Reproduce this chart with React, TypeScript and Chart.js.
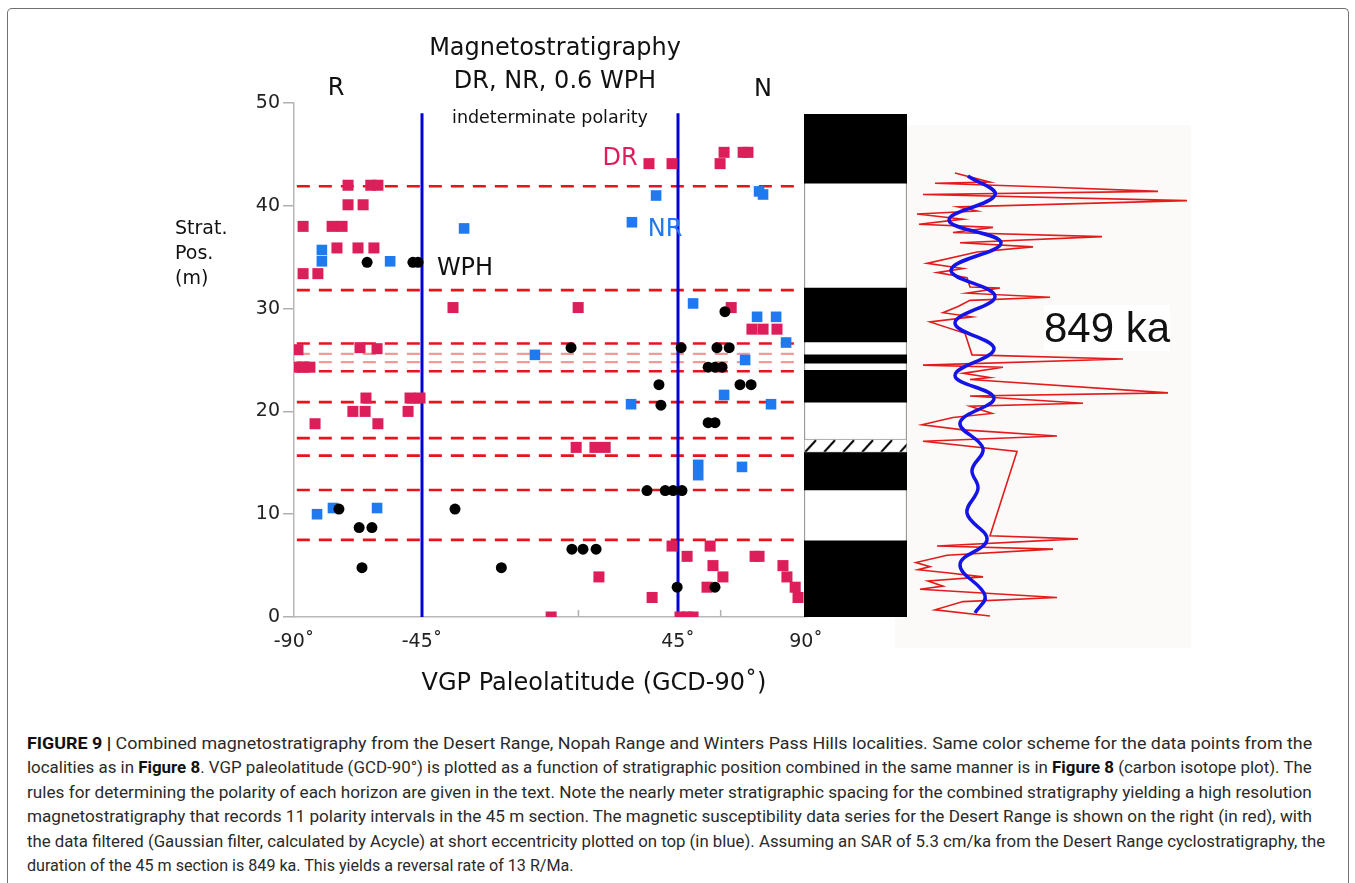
import React, { useEffect, useLayoutEffect, useRef } from "react";
import { Chart, registerables } from "chart.js";
Chart.register(...registerables);

const FONT = "'DejaVu Sans', sans-serif";

// ---- main scatter: VGP paleolatitude vs stratigraphic position ----
const yTickStep = 10;
const xTickValues = [-90, -45, 10, 45, 60, 90];
const xTickLabels = ["-90˚", "-45˚", "", "45˚", "", "90˚"];
const xMinorTicks = [10, 60];

// Desert Range (DR)
const drLat = [-71, -63, -60.5, -71, -65.7, -86.8, -76.6, -73.1, -74.9, -67.5, -61.9, -86.8, -81.6,
  34.8, 42.9, 59.8, 61.2, 67.9, 69.6, -34.1, 9.9, 63.7, 71, 74.9, 79.8, -88.6, -66.8, -60.8,
  -89.6, -87.1, -84.4, -64.7, -49.2, -45.7, -69.3, -65, -49.9, -82.6, -60.5, 9.2, 15.8, 19.4,
  42.9, 56.3, 48.2, 72.1, 73.5, 57.3, 81.9, 17.2, 60.8, 83.3, 55.2, 86.2, 35.9, 87.2, 0.4, 45.7, 48.2, 50.3];
const drPos = [42, 42, 42, 40.1, 40.1, 38, 38, 38, 35.9, 35.9, 35.9, 33.4, 33.4,
  44.1, 44.1, 44.1, 45.2, 45.2, 45.2, 30.1, 30.1, 30.1, 28, 28, 28, 26.0, 26.2, 26.1,
  24.3, 24.3, 24.3, 21.3, 21.3, 21.3, 20, 20, 20, 18.8, 18.8, 16.5, 16.5, 16.5,
  6.9, 6.9, 5.9, 5.9, 5.9, 5.0, 5.0, 3.9, 3.9, 3.9, 2.9, 2.9, 1.9, 1.9, 0, 0, 0, 0];

// Nopah Range (NR)
const nrLat = [-80.2, -80.2, -56.2, -30.2, 37.3, 73.5, 74.9, 28.8, 50.3, 72.8, 79.5, 83, -5.3, 68.6,
  61.2, 28.5, 77.7, 52.1, 52.1, 67.5, -81.9, -76.3, -60.8];
const nrPos = [35.7, 34.6, 34.6, 37.8, 41.0, 41.4, 41.1, 38.4, 30.5, 29.2, 29.2, 26.7, 25.5, 25.0,
  21.6, 20.7, 20.7, 14.8, 13.8, 14.6, 10.0, 10.6, 10.6];

// Winters Pass Hills (WPH)
const wphLat = [-64.3, -48.2, -46.4, 61.5, 7.4, 46.1, 58.7, 63, 55.6, 58, 60.5, 38.3, 66.8, 70.7, 39,
  55.6, 58, 34.1, 40.5, 43.3, 46.4, -74.2, -33.4, -67.1, -62.6, 7.7, 11.6, 16.2, -66.1, -17.1, 44.7, 58];
const wphPos = [34.5, 34.5, 34.5, 29.7, 26.2, 26.2, 26.2, 26.2, 24.3, 24.3, 24.3, 22.6, 22.6, 22.6, 20.6,
  18.9, 18.9, 12.3, 12.3, 12.3, 12.3, 10.5, 10.5, 8.7, 8.7, 6.6, 6.6, 6.6, 4.8, 4.8, 2.9, 2.9];

// polarity horizons (m) and their latitude extent
const horizonPos = [41.9, 31.8, 26.6, 23.9, 20.9, 17.4, 15.7, 12.35, 7.5];
const faintHorizonPos = [25.6, 24.8];
const horizonLat = [-89, 86];

// indeterminate polarity boundaries
const boundaryLat = [-45, 45];
const boundaryPos = [0, 49];

// ---- polarity column ----
const columnTop = 48.9;
const normalFrom = [42.2, 26.75, 24.7, 20.9, 12.35, 0];
const normalTo = [48.9, 32.0, 25.5, 24.0, 16.0, 7.4];
const hatchFrom = 16.0;
const hatchTo = 17.3;

// ---- magnetic susceptibility (Desert Range) ----
const susPos = [43.2, 42.3, 42.2, 41.8, 41.4, 41.1, 40.5, 39.9, 39.5, 39.2, 38.7, 38.2, 37.9, 37.4, 37.0,
  36.4, 36.0, 35.5, 34.4, 33.9, 33.5, 33.0, 32.1, 32.0, 31.5, 31.1, 30.8, 30.2, 29.6, 29.2, 28.7, 27.6,
  25.5, 25.1, 24.5, 24.3, 23.7, 23.3, 23.1, 21.8, 21.5, 20.8, 20.5, 19.8, 19.4, 18.7, 18.2, 17.6, 17.1,
  16.1, 7.9, 7.6, 6.9, 6.6, 6.0, 5.3, 4.9, 4.6, 4.3, 3.9, 3.5, 3.0, 2.7, 1.9, 1.5, 0.7, 0.1];
const susVal = [55, 90, 35, 153, 258, 23, 287, 58, 77, 17, 63, 19, 93, 53, 202,
  60, 133, 77, 27, 63, 37, 67, 70, 100, 67, 150, 70, 58, 43, 72, 30, 65,
  72, 223, 23, 103, 63, 90, 70, 268, 70, 183, 70, 92, 53, 22, 63, 157, 23,
  117, 90, 178, 37, 153, 47, 16, 30, 18, 47, 83, 28, 43, 20, 157, 63, 35, 90];
// Gaussian-filtered (short eccentricity)
const filtPos = [42.9, 41.05, 38.6, 36.4, 33.75, 31.2, 28.6, 26.1, 23.5, 21.3, 18.9, 16.4, 14.3, 12.5, 10.1, 7.5, 5.1, 2.1, 0.4];
const filtVal = [68, 95, 49, 101, 51, 95, 55, 94, 55, 94, 60, 83, 72, 78, 67, 87, 60, 85, 75];

const captionLines: Array<{ parts: Array<[string, boolean]>; width: number }> = [
  { parts: [["FIGURE 9 | ", true], ["Combined magnetostratigraphy from the Desert Range, Nopah Range and Winters Pass Hills localities. Same color scheme for the data points from the", false]], width: 1285 },
  { parts: [["localities as in ", false], ["Figure 8", true], [". VGP paleolatitude (GCD-90°) is plotted as a function of stratigraphic position combined in the same manner is in ", false], ["Figure 8", true], [" (carbon isotope plot). The", false]], width: 1285 },
  { parts: [["rules for determining the polarity of each horizon are given in the text. Note the nearly meter stratigraphic spacing for the combined stratigraphy yielding a high resolution", false]], width: 1285 },
  { parts: [["magnetostratigraphy that records 11 polarity intervals in the 45 m section. The magnetic susceptibility data series for the Desert Range is shown on the right (in red), with", false]], width: 1285 },
  { parts: [["the data filtered (Gaussian filter, calculated by Acycle) at short eccentricity plotted on top (in blue). Assuming an SAR of 5.3 cm/ka from the Desert Range cyclostratigraphy, the", false]], width: 1298 },
  { parts: [["duration of the 45 m section is 849 ka. This yields a reversal rate of 13 R/Ma.", false]], width: 546 },
];

const pts = (xs: number[], ys: number[]) => xs.map((x, i) => ({ x, y: ys[i] }));

function Label(props: { x: number; y: number; text: string; size: number; color?: string; family?: string; bg?: string }) {
  return (
    <div style={{
      position: "absolute", left: props.x, top: props.y, transform: "translate(-50%,-50%)",
      fontFamily: props.family || FONT, fontSize: props.size, color: props.color || "#111",
      whiteSpace: "nowrap", lineHeight: 1.1, background: props.bg || "transparent",
    }}>{props.text}</div>
  );
}

export default function App() {
  const mainRef = useRef<HTMLCanvasElement | null>(null);
  const colRef = useRef<HTMLCanvasElement | null>(null);
  const susRef = useRef<HTMLCanvasElement | null>(null);
  const capRefs = useRef<Array<HTMLSpanElement | null>>([]);

  useLayoutEffect(() => {
    capRefs.current.forEach((el, i) => {
      if (!el) return;
      const w = el.offsetWidth;
      if (w > 0) el.style.transform = `scaleX(${captionLines[i].width / w})`;
    });
  }, []);

  useEffect(() => {
    const lineDs = (lat: number[], pos: number[], color: string, width: number, dash: number[], order: number) => ({
      data: pts(lat, pos), showLine: true, borderColor: color, borderWidth: width, borderDash: dash,
      pointRadius: 0, pointHoverRadius: 0, order, fill: false,
    });
    const innerTicks = {
      id: "innerTicks",
      afterDatasetsDraw(chart: any) {
        const s = chart.scales.x; const c = chart.ctx; const b = chart.chartArea.bottom;
        c.save(); c.strokeStyle = "#b0b0b0"; c.lineWidth = 1.5;
        xMinorTicks.forEach((v) => { const px = s.getPixelForValue(v); c.beginPath(); c.moveTo(px, b); c.lineTo(px, b - 7); c.stroke(); });
        c.restore();
      },
    };
    const main = new Chart(mainRef.current as HTMLCanvasElement, {
      type: "scatter",
      data: {
        datasets: [
          ...horizonPos.map((p) => lineDs(horizonLat, [p, p], "#e6151b", 2.6, [13, 9], 5)),
          ...faintHorizonPos.map((p) => lineDs(horizonLat, [p, p], "#f09a9a", 2.2, [13, 9], 5)),
          ...boundaryLat.map((l) => lineDs([l, l], boundaryPos, "#0000dc", 3, [], 4)),
          { data: pts(drLat, drPos), pointStyle: "rect", pointRadius: 7.8, backgroundColor: "#dc1f5a", borderWidth: 0, order: 2 },
          { data: pts(nrLat, nrPos), pointStyle: "rect", pointRadius: 7.5, backgroundColor: "#1f7af0", borderWidth: 0, order: 1 },
          { data: pts(wphLat, wphPos), pointStyle: "circle", pointRadius: 5.5, backgroundColor: "#000", borderWidth: 0, order: 0 },
        ] as any,
      },
      options: {
        responsive: false, animation: false,
        layout: { padding: { top: 103, right: 44, left: 0, bottom: 0 } },
        plugins: { legend: { display: false }, tooltip: { enabled: false } },
        scales: {
          x: {
            type: "linear", min: -90, max: 90,
            afterBuildTicks: (s: any) => { s.ticks = xTickValues.map((v) => ({ value: v })); },
            afterFit: (s: any) => { s.height = 103; },
            grid: { display: false, drawTicks: false },
            border: { display: true, color: "#b8b8b8", width: 1.5 },
            ticks: { autoSkip: false, maxRotation: 0, padding: 14, color: "#222", font: { family: FONT, size: 19 },
              callback: (_v: any, i: number) => xTickLabels[i] },
          },
          y: {
            type: "linear", min: 0, max: 50,
            afterFit: (s: any) => { s.width = 144; },
            grid: { drawOnChartArea: false, drawTicks: true, tickLength: 11, color: "#b0b0b0", lineWidth: 1.5 },
            border: { display: true, color: "#b8b8b8", width: 1.5 },
            ticks: { stepSize: yTickStep, padding: 3, color: "#222", font: { family: FONT, size: 19 } },
          },
        },
      } as any,
      plugins: [innerTicks],
    });

    // hatch pattern
    const tile = document.createElement("canvas");
    tile.width = 19; tile.height = 14;
    const tc = tile.getContext("2d") as CanvasRenderingContext2D;
    tc.fillStyle = "#fff"; tc.fillRect(0, 0, 19, 14);
    tc.strokeStyle = "#000"; tc.lineWidth = 2;
    tc.beginPath(); tc.moveTo(3, 13); tc.lineTo(14, 1); tc.stroke();
    const colCanvas = colRef.current as HTMLCanvasElement;
    const pattern = (colCanvas.getContext("2d") as CanvasRenderingContext2D).createPattern(tile, "repeat") as CanvasPattern;
    const alignHatch = {
      id: "alignHatch",
      beforeDatasetsDraw(chart: any) {
        const y = chart.scales.y.getPixelForValue(hatchTo);
        try { pattern.setTransform(new DOMMatrix([1, 0, 0, 1, 0, y])); } catch (e) { /* ignore */ }
      },
    };
    const col = new Chart(colCanvas, {
      type: "bar",
      data: {
        labels: ["polarity"],
        datasets: [
          { data: [[0, columnTop]], backgroundColor: "#fff", borderColor: "#9a9a9a", borderWidth: 1.5, borderSkipped: false, grouped: false, order: 3 },
          { data: [[hatchFrom, hatchTo]], backgroundColor: pattern, borderColor: "#9a9a9a", borderWidth: 1, borderSkipped: false, grouped: false, order: 2 },
          ...normalFrom.map((f, i) => ({ data: [[f, normalTo[i]]], backgroundColor: "#000", borderWidth: 0, grouped: false, order: 1 })),
        ] as any,
      },
      options: {
        responsive: false, animation: false,
        layout: { padding: { left: 2, right: 2, top: 2, bottom: 2 } },
        plugins: { legend: { display: false }, tooltip: { enabled: false } },
        datasets: { bar: { barPercentage: 1, categoryPercentage: 1 } },
        scales: { x: { display: false }, y: { display: false, min: 0, max: 50 } },
      } as any,
      plugins: [alignHatch],
    });

    const sus = new Chart(susRef.current as HTMLCanvasElement, {
      type: "scatter",
      data: {
        datasets: [
          { data: pts(susVal, susPos), showLine: true, borderColor: "#e31b1b", borderWidth: 1.6, pointRadius: 0, tension: 0, order: 2 },
          { data: pts(filtVal, filtPos), showLine: true, borderColor: "#1414e6", borderWidth: 3.5, pointRadius: 0, tension: 0.4, order: 1 },
        ] as any,
      },
      options: {
        responsive: false, animation: false,
        layout: { padding: { top: 3, bottom: 31, left: 0, right: 0 } },
        plugins: { legend: { display: false }, tooltip: { enabled: false } },
        scales: { x: { display: false, min: -5, max: 291 }, y: { display: false, min: 0, max: 50 } },
      } as any,
    });

    return () => { main.destroy(); col.destroy(); sus.destroy(); };
  }, []);

  return (
    <div style={{ position: "absolute", left: 0, top: 0, width: 1355, height: 883, overflow: "hidden", background: "#fff" }}>
      <div style={{ position: "absolute", left: 7, top: 8, width: 1340, height: 900, border: "1.5px solid #707070", borderBottom: "none", borderRadius: "5px 5px 0 0" }} />
      <div style={{ position: "absolute", left: 895, top: 125, width: 296, height: 523, background: "#fcf9f9" }} />
      <canvas ref={mainRef} width={700} height={720} style={{ position: "absolute", left: 150, top: 0 }} />
      <canvas ref={colRef} width={107} height={518} style={{ position: "absolute", left: 802, top: 101 }} />
      <canvas ref={susRef} width={296} height={548} style={{ position: "absolute", left: 895, top: 100 }} />

      <Label x={555} y={47} text="Magnetostratigraphy" size={24} />
      <Label x={555} y={80} text="DR, NR, 0.6 WPH" size={24} />
      <Label x={550} y={118} text="indeterminate polarity" size={17.5} />
      <Label x={336} y={87} text="R" size={24} />
      <Label x={763} y={88} text="N" size={24} />
      <Label x={465} y={267} text="WPH" size={24} />
      <Label x={620} y={157} text="DR" size={24} color="#dc1f5a" />
      <Label x={665} y={228} text="NR" size={24} color="#1f7af0" />
      <Label x={1107} y={328} text="849 ka" size={42} color="#111" family="'Liberation Sans', Arial, sans-serif" bg="#fff" />
      <Label x={594} y={682} text="VGP Paleolatitude (GCD-90˚)" size={24} />
      <div style={{ position: "absolute", left: 175, top: 215, fontFamily: FONT, fontSize: 19, lineHeight: "25px", color: "#111" }}>
        Strat.<br />Pos.<br />(m)
      </div>

      <div style={{ position: "absolute", left: 27, top: 732, fontFamily: "Roboto, 'Liberation Sans', sans-serif", fontSize: 16, lineHeight: "24.4px", color: "#2a2a2a" }}>
        {captionLines.map((ln, i) => (
          <div key={i} style={{ height: 24.4, whiteSpace: "nowrap" }}>
            <span ref={(el) => { capRefs.current[i] = el; }} style={{ display: "inline-block", transformOrigin: "left center" }}>
              {ln.parts.map(([t, b], j) => (
                <span key={j} style={{ fontWeight: b ? 700 : 400, color: b ? "#111" : undefined }}>{t}</span>
              ))}
            </span>
          </div>
        ))}
      </div>
    </div>
  );
}
